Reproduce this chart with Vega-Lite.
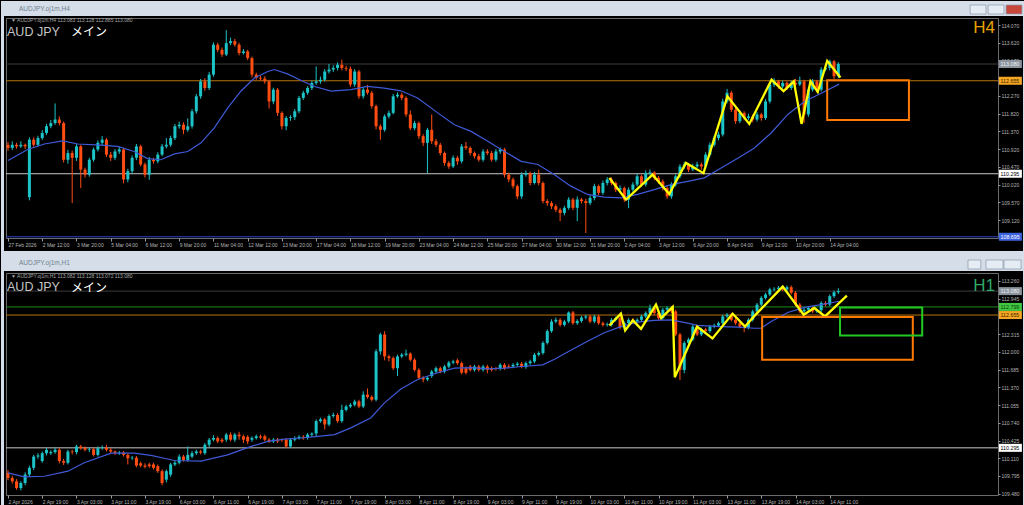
{
"$schema":"https://vega.github.io/schema/vega-lite/v6.json",
"padding":0,
"background":"#000000",
"config":{"view":{"stroke":"#6b6b6b","strokeWidth":1},"font":"Liberation Sans","scale":{"continuousPadding":0}},
"datasets":{
"f4":[{"x":-1.636,"x2":237.62,"y":114.679,"y2":114.299},{"x":-1.636,"x2":-0.935,"y":114.299,"y2":108.283},{"x":237.15,"x2":237.62,"y":114.299,"y2":108.283},{"x":-1.636,"x2":237.62,"y":108.334,"y2":108.283}],
"f1":[{"x":-1.636,"x2":237.62,"y":113.757,"y2":113.438},{"x":-1.636,"x2":-0.935,"y":113.438,"y2":109.262},{"x":237.15,"x2":237.62,"y":113.438,"y2":109.262}],
"b4":[{"x":224.8,"x2":228.5,"y":114.578,"y2":114.35,"k":"b"},{"x":229.0,"x2":232.7,"y":114.578,"y2":114.35,"k":"b"},{"x":233.2,"x2":236.9,"y":114.578,"y2":114.35,"k":"x"}],
"b1":[{"x":224.3,"x2":227.3,"y":113.633,"y2":113.473,"k":"b"},{"x":228.5,"x2":232.5,"y":113.633,"y2":113.473,"k":"b"},{"x":232.7,"x2":236.7,"y":113.633,"y2":113.473,"k":"b"}],
"h4":[{"v":113.08,"k":"c"},{"v":112.655,"k":"o"},{"v":110.295,"k":"w"},{"v":108.695,"k":"b"}],
"h1":[{"v":113.08,"k":"c"},{"v":112.799,"k":"g"},{"v":112.655,"k":"o"},{"v":110.295,"k":"w"}],
"t4":[{"v":113.08,"k":"c","t":"113.080"},{"v":112.655,"k":"o","t":"112.655"},{"v":110.295,"k":"w","t":"110.295"},{"v":108.695,"k":"b","t":"108.695"}],
"t1":[{"v":113.08,"k":"c","t":"113.080"},{"v":112.799,"k":"g","t":"112.799"},{"v":112.655,"k":"o","t":"112.655"},{"v":110.295,"k":"w","t":"110.295"}],
"r4":[{"x":191.4,"x2":210.5,"y":112.67,"y2":111.66,"k":"o"}],
"r1":[{"x":176.2,"x2":211.4,"y":112.62,"y2":111.86,"k":"o"},{"x":194.4,"x2":213.6,"y":112.79,"y2":112.29,"k":"g"}],
"ma4":[{"i":0,"v":110.63},{"i":4.6,"v":110.91},{"i":8.5,"v":111.05},{"i":12.8,"v":111.13},{"i":16.3,"v":111.05},{"i":21.7,"v":111.02},{"i":25.6,"v":110.99},{"i":29.5,"v":110.86},{"i":32.6,"v":110.68},{"i":35.7,"v":110.65},{"i":38.9,"v":110.8},{"i":42,"v":110.86},{"i":45.1,"v":111.08},{"i":48.2,"v":111.46},{"i":51.3,"v":111.96},{"i":54.4,"v":112.39},{"i":57.5,"v":112.72},{"i":60.7,"v":112.89},{"i":62.2,"v":112.94},{"i":65.3,"v":112.83},{"i":68.5,"v":112.66},{"i":71.6,"v":112.51},{"i":75.5,"v":112.39},{"i":80.1,"v":112.43},{"i":84,"v":112.51},{"i":87.9,"v":112.47},{"i":91.8,"v":112.4},{"i":95.7,"v":112.22},{"i":100.4,"v":111.84},{"i":104.3,"v":111.54},{"i":108.2,"v":111.37},{"i":112.1,"v":111.12},{"i":116,"v":110.86},{"i":119.9,"v":110.61},{"i":123.8,"v":110.53},{"i":127.7,"v":110.27},{"i":131.5,"v":109.98},{"i":135.4,"v":109.77},{"i":139.3,"v":109.7},{"i":143.2,"v":109.68},{"i":147.1,"v":109.77},{"i":151,"v":109.89},{"i":154.9,"v":110.02},{"i":158.8,"v":110.1},{"i":162.7,"v":110.19},{"i":166.6,"v":110.44},{"i":170.5,"v":110.69},{"i":174.4,"v":110.95},{"i":178.3,"v":111.33},{"i":182.2,"v":111.8},{"i":186.1,"v":112.13},{"i":190,"v":112.34},{"i":194.2,"v":112.57}],
"ma1":[{"i":0,"v":109.85},{"i":3.8,"v":109.78},{"i":8.5,"v":109.79},{"i":14,"v":109.88},{"i":17.8,"v":110.03},{"i":24.1,"v":110.2},{"i":29.5,"v":110.2},{"i":33.4,"v":110.16},{"i":38.9,"v":110.07},{"i":45.1,"v":110.06},{"i":51.3,"v":110.17},{"i":56.8,"v":110.32},{"i":60.7,"v":110.41},{"i":64.6,"v":110.45},{"i":68.5,"v":110.47},{"i":72.4,"v":110.5},{"i":76.3,"v":110.53},{"i":80.1,"v":110.65},{"i":84.8,"v":110.83},{"i":87.9,"v":111.09},{"i":91.8,"v":111.34},{"i":95.7,"v":111.51},{"i":100.4,"v":111.63},{"i":104.3,"v":111.71},{"i":108.2,"v":111.72},{"i":112.1,"v":111.7},{"i":116,"v":111.71},{"i":119.9,"v":111.74},{"i":124.9,"v":111.77},{"i":127.7,"v":111.87},{"i":131.5,"v":112.03},{"i":135.4,"v":112.19},{"i":139.3,"v":112.34},{"i":143.2,"v":112.45},{"i":147.1,"v":112.53},{"i":151,"v":112.56},{"i":154.9,"v":112.57},{"i":158.8,"v":112.51},{"i":161.1,"v":112.47},{"i":166.6,"v":112.45},{"i":170.5,"v":112.44},{"i":174.4,"v":112.42},{"i":175.9,"v":112.42},{"i":178.3,"v":112.54},{"i":182.2,"v":112.7},{"i":186.1,"v":112.79},{"i":190,"v":112.84},{"i":194.2,"v":112.9}],
"zz4":[{"i":140.5,"v":110.19},{"i":144.4,"v":109.64},{"i":150.6,"v":110.27},{"i":154.5,"v":109.78},{"i":158.4,"v":110.57},{"i":162.5,"v":110.31},{"i":168.1,"v":112.26},{"i":173.2,"v":111.56},{"i":178.4,"v":112.68},{"i":181.2,"v":112.39},{"i":183.6,"v":112.64},{"i":185.4,"v":111.56},{"i":187.5,"v":112.64},{"i":189.2,"v":112.37},{"i":191.4,"v":113.16},{"i":194.5,"v":112.74}],
"zz1":[{"i":140.5,"v":112.47},{"i":143.2,"v":112.68},{"i":144.2,"v":112.38},{"i":146,"v":112.56},{"i":147.9,"v":112.41},{"i":151.4,"v":112.84},{"i":152.6,"v":112.6},{"i":155.3,"v":112.8},{"i":155.8,"v":111.55},{"i":161,"v":112.45},{"i":164.6,"v":112.24},{"i":169.3,"v":112.68},{"i":172.2,"v":112.45},{"i":174.4,"v":112.64},{"i":181,"v":113.16},{"i":185.9,"v":112.66},{"i":188.4,"v":112.78},{"i":190.9,"v":112.63},{"i":196,"v":113.0}],
"c4":[
{"i":0,"o":111.03,"h":111.1,"l":110.88,"c":110.95},{"i":1,"o":110.95,"h":111.12,"l":110.9,"c":111.03},{"i":2,"o":111.03,"h":111.08,"l":110.93,"c":110.99},{"i":3,"o":110.99,"h":111.12,"l":110.95,"c":111.03},{"i":4,"o":111.03,"h":111.06,"l":110.92,"c":110.99},
{"i":5,"o":109.7,"h":111.22,"l":109.62,"c":111.16},{"i":6,"o":111.16,"h":111.22,"l":110.98,"c":111.03},{"i":7,"o":111.03,"h":111.26,"l":110.99,"c":111.2},{"i":8,"o":111.2,"h":111.4,"l":111.15,"c":111.33},{"i":9,"o":111.33,"h":111.56,"l":111.28,"c":111.5},
{"i":10,"o":111.5,"h":111.66,"l":111.45,"c":111.58},{"i":11,"o":111.58,"h":112.08,"l":111.54,"c":111.67},{"i":12,"o":111.67,"h":111.75,"l":111.52,"c":111.58},{"i":13,"o":111.58,"h":111.62,"l":110.58,"c":110.65},{"i":14,"o":110.65,"h":110.9,"l":110.55,"c":110.82},
{"i":15,"o":110.82,"h":110.88,"l":109.55,"c":110.7},{"i":16,"o":110.7,"h":111.05,"l":110.62,"c":110.99},{"i":17,"o":110.99,"h":111.03,"l":109.93,"c":110.4},{"i":18,"o":110.4,"h":110.45,"l":110.2,"c":110.27},{"i":19,"o":110.27,"h":110.7,"l":110.22,"c":110.65},
{"i":20,"o":110.65,"h":110.96,"l":110.6,"c":110.91},{"i":21,"o":110.91,"h":111.14,"l":110.86,"c":111.08},{"i":22,"o":111.08,"h":111.25,"l":111.02,"c":111.16},{"i":23,"o":111.16,"h":111.2,"l":110.72,"c":110.78},{"i":24,"o":110.78,"h":110.85,"l":110.62,"c":110.7},
{"i":25,"o":110.7,"h":110.92,"l":110.64,"c":110.86},{"i":26,"o":110.86,"h":110.98,"l":110.8,"c":110.91},{"i":27,"o":110.91,"h":110.95,"l":110.05,"c":110.15},{"i":28,"o":110.15,"h":110.42,"l":110.08,"c":110.36},{"i":29,"o":110.36,"h":110.76,"l":110.3,"c":110.7},
{"i":30,"o":110.7,"h":111.05,"l":110.64,"c":110.99},{"i":31,"o":110.99,"h":111.03,"l":110.48,"c":110.53},{"i":32,"o":110.53,"h":110.58,"l":110.2,"c":110.27},{"i":33,"o":110.27,"h":110.72,"l":110.14,"c":110.65},{"i":34,"o":110.65,"h":110.7,"l":110.55,"c":110.61},
{"i":35,"o":110.61,"h":110.84,"l":110.56,"c":110.78},{"i":36,"o":110.78,"h":111.05,"l":110.74,"c":110.99},{"i":37,"o":110.99,"h":111.2,"l":110.94,"c":111.03},{"i":38,"o":111.03,"h":111.26,"l":110.98,"c":111.2},{"i":39,"o":111.2,"h":111.56,"l":111.15,"c":111.5},
{"i":40,"o":111.5,"h":111.62,"l":111.44,"c":111.54},{"i":41,"o":111.54,"h":111.6,"l":111.3,"c":111.41},{"i":42,"o":111.41,"h":111.7,"l":111.36,"c":111.5},{"i":43,"o":111.5,"h":111.94,"l":111.44,"c":111.88},{"i":44,"o":111.88,"h":112.32,"l":111.82,"c":112.26},
{"i":45,"o":112.26,"h":112.7,"l":112.2,"c":112.64},{"i":46,"o":112.64,"h":112.72,"l":112.4,"c":112.47},{"i":47,"o":112.47,"h":112.88,"l":112.42,"c":112.81},{"i":48,"o":112.81,"h":113.63,"l":112.76,"c":113.57},{"i":49,"o":113.57,"h":113.62,"l":113.38,"c":113.44},
{"i":50,"o":113.44,"h":113.5,"l":113.26,"c":113.32},{"i":51,"o":113.32,"h":113.94,"l":113.28,"c":113.61},{"i":52,"o":113.61,"h":113.75,"l":113.56,"c":113.66},{"i":53,"o":113.66,"h":113.72,"l":113.52,"c":113.57},{"i":54,"o":113.57,"h":113.62,"l":113.3,"c":113.36},
{"i":55,"o":113.36,"h":113.46,"l":113.32,"c":113.4},{"i":56,"o":113.4,"h":113.44,"l":113.18,"c":113.23},{"i":57,"o":113.23,"h":113.27,"l":112.74,"c":112.81},{"i":58,"o":112.81,"h":112.86,"l":112.68,"c":112.73},{"i":59,"o":112.73,"h":112.78,"l":112.66,"c":112.71},
{"i":60,"o":112.71,"h":112.77,"l":112.58,"c":112.64},{"i":61,"o":112.64,"h":112.68,"l":111.95,"c":112.13},{"i":62,"o":112.13,"h":112.48,"l":112.06,"c":112.43},{"i":63,"o":112.43,"h":112.47,"l":111.76,"c":111.84},{"i":64,"o":111.84,"h":111.88,"l":111.42,"c":111.5},
{"i":65,"o":111.5,"h":111.76,"l":111.4,"c":111.71},{"i":66,"o":111.71,"h":111.78,"l":111.64,"c":111.73},{"i":67,"o":111.73,"h":111.94,"l":111.66,"c":111.88},{"i":68,"o":111.88,"h":112.27,"l":111.83,"c":112.22},{"i":69,"o":112.22,"h":112.4,"l":112.17,"c":112.35},
{"i":70,"o":112.35,"h":112.52,"l":112.3,"c":112.47},{"i":71,"o":112.47,"h":112.66,"l":112.42,"c":112.6},{"i":72,"o":112.6,"h":113.02,"l":112.55,"c":112.64},{"i":73,"o":112.64,"h":112.76,"l":112.58,"c":112.68},{"i":74,"o":112.68,"h":112.95,"l":112.63,"c":112.89},
{"i":75,"o":112.89,"h":113.08,"l":112.84,"c":112.94},{"i":76,"o":112.94,"h":113.05,"l":112.88,"c":112.98},{"i":77,"o":112.98,"h":113.12,"l":112.92,"c":113.06},{"i":78,"o":113.06,"h":113.19,"l":112.92,"c":112.98},{"i":79,"o":112.98,"h":113.04,"l":112.9,"c":112.96},
{"i":80,"o":112.96,"h":113.02,"l":112.5,"c":112.56},{"i":81,"o":112.56,"h":112.95,"l":112.5,"c":112.89},{"i":82,"o":112.89,"h":112.93,"l":112.2,"c":112.26},{"i":83,"o":112.26,"h":112.5,"l":112.2,"c":112.43},{"i":84,"o":112.43,"h":112.55,"l":112.3,"c":112.35},
{"i":85,"o":112.35,"h":112.4,"l":111.95,"c":112.01},{"i":86,"o":112.01,"h":112.05,"l":111.42,"c":111.5},{"i":87,"o":111.5,"h":111.55,"l":111.16,"c":111.41},{"i":88,"o":111.41,"h":111.8,"l":111.36,"c":111.75},{"i":89,"o":111.75,"h":111.9,"l":111.7,"c":111.84},
{"i":90,"o":111.84,"h":112.32,"l":111.8,"c":112.26},{"i":91,"o":112.26,"h":112.36,"l":112.22,"c":112.3},{"i":92,"o":112.3,"h":112.35,"l":112.16,"c":112.22},{"i":93,"o":112.22,"h":112.26,"l":111.74,"c":111.8},{"i":94,"o":111.8,"h":111.9,"l":111.4,"c":111.45},
{"i":95,"o":111.45,"h":111.64,"l":111.4,"c":111.58},{"i":96,"o":111.58,"h":111.62,"l":111.18,"c":111.25},{"i":97,"o":111.25,"h":111.3,"l":111.0,"c":111.08},{"i":98,"o":111.08,"h":111.46,"l":110.31,"c":111.41},{"i":99,"o":111.41,"h":111.8,"l":111.05,"c":111.12},
{"i":100,"o":111.12,"h":111.18,"l":110.97,"c":111.03},{"i":101,"o":111.03,"h":111.08,"l":110.76,"c":110.82},{"i":102,"o":110.82,"h":110.86,"l":110.5,"c":110.57},{"i":103,"o":110.57,"h":110.62,"l":110.42,"c":110.48},{"i":104,"o":110.48,"h":110.76,"l":110.44,"c":110.7},
{"i":105,"o":110.7,"h":110.75,"l":110.52,"c":110.61},{"i":106,"o":110.61,"h":111.05,"l":110.56,"c":110.99},{"i":107,"o":110.99,"h":111.1,"l":110.9,"c":110.95},{"i":108,"o":110.95,"h":110.99,"l":110.76,"c":110.82},{"i":109,"o":110.82,"h":110.86,"l":110.68,"c":110.74},
{"i":110,"o":110.74,"h":110.8,"l":110.6,"c":110.65},{"i":111,"o":110.65,"h":110.92,"l":110.6,"c":110.86},{"i":112,"o":110.86,"h":110.92,"l":110.77,"c":110.82},{"i":113,"o":110.82,"h":110.87,"l":110.6,"c":110.65},{"i":114,"o":110.65,"h":110.92,"l":110.6,"c":110.86},
{"i":115,"o":110.86,"h":110.96,"l":110.8,"c":110.91},{"i":116,"o":110.91,"h":110.95,"l":110.2,"c":110.27},{"i":117,"o":110.27,"h":110.32,"l":110.08,"c":110.15},{"i":118,"o":110.15,"h":110.2,"l":109.92,"c":109.98},{"i":119,"o":109.98,"h":110.02,"l":109.65,"c":109.72},
{"i":120,"o":109.72,"h":110.33,"l":109.66,"c":110.27},{"i":121,"o":110.27,"h":110.38,"l":110.22,"c":110.31},{"i":122,"o":110.31,"h":110.35,"l":110.0,"c":110.06},{"i":123,"o":110.06,"h":110.34,"l":110.02,"c":110.27},{"i":124,"o":110.27,"h":110.4,"l":110.0,"c":110.06},
{"i":125,"o":110.06,"h":110.1,"l":109.54,"c":109.6},{"i":126,"o":109.6,"h":109.65,"l":109.48,"c":109.55},{"i":127,"o":109.55,"h":109.6,"l":109.4,"c":109.47},{"i":128,"o":109.47,"h":109.52,"l":109.32,"c":109.38},{"i":129,"o":109.38,"h":109.43,"l":109.09,"c":109.3},
{"i":130,"o":109.3,"h":109.48,"l":109.24,"c":109.43},{"i":131,"o":109.43,"h":109.7,"l":109.38,"c":109.64},{"i":132,"o":109.64,"h":109.68,"l":109.37,"c":109.43},{"i":133,"o":109.43,"h":109.72,"l":109.09,"c":109.64},{"i":134,"o":109.64,"h":109.68,"l":109.54,"c":109.6},
{"i":135,"o":109.6,"h":109.66,"l":108.79,"c":109.55},{"i":136,"o":109.55,"h":109.74,"l":109.5,"c":109.68},{"i":137,"o":109.68,"h":110.04,"l":109.62,"c":109.98},{"i":138,"o":109.98,"h":110.02,"l":109.75,"c":109.81},{"i":139,"o":109.81,"h":110.12,"l":109.76,"c":110.06},
{"i":140,"o":110.06,"h":110.21,"l":110.0,"c":110.15},{"i":141,"o":110.15,"h":110.2,"l":110.0,"c":110.06},{"i":142,"o":110.06,"h":110.1,"l":109.83,"c":109.89},{"i":143,"o":109.89,"h":110.0,"l":109.85,"c":109.93},{"i":144,"o":109.93,"h":109.97,"l":109.58,"c":109.64},
{"i":145,"o":109.64,"h":109.95,"l":109.42,"c":109.89},{"i":146,"o":109.89,"h":110.08,"l":109.84,"c":110.02},{"i":147,"o":110.02,"h":110.29,"l":109.97,"c":110.23},{"i":148,"o":110.23,"h":110.27,"l":109.96,"c":110.02},{"i":149,"o":110.02,"h":110.38,"l":109.97,"c":110.31},
{"i":150,"o":110.31,"h":110.4,"l":110.25,"c":110.33},{"i":151,"o":110.33,"h":110.36,"l":110.13,"c":110.19},{"i":152,"o":110.19,"h":110.24,"l":110.04,"c":110.1},{"i":153,"o":110.1,"h":110.15,"l":109.87,"c":109.93},{"i":154,"o":109.93,"h":109.98,"l":109.66,"c":109.72},
{"i":155,"o":109.72,"h":110.08,"l":109.66,"c":110.02},{"i":156,"o":110.02,"h":110.28,"l":109.97,"c":110.23},{"i":157,"o":110.23,"h":110.54,"l":110.18,"c":110.48},{"i":158,"o":110.48,"h":110.6,"l":110.42,"c":110.53},{"i":159,"o":110.53,"h":110.57,"l":110.34,"c":110.4},
{"i":160,"o":110.4,"h":110.55,"l":110.36,"c":110.48},{"i":161,"o":110.48,"h":110.6,"l":110.44,"c":110.53},{"i":162,"o":110.53,"h":110.58,"l":110.4,"c":110.48},{"i":163,"o":110.48,"h":110.84,"l":110.43,"c":110.78},{"i":164,"o":110.78,"h":111.09,"l":110.73,"c":111.03},
{"i":165,"o":111.03,"h":111.26,"l":110.98,"c":111.2},{"i":166,"o":111.2,"h":111.36,"l":111.14,"c":111.29},{"i":167,"o":111.29,"h":112.2,"l":111.24,"c":112.13},{"i":168,"o":112.13,"h":112.45,"l":112.08,"c":112.35},{"i":169,"o":112.35,"h":112.4,"l":111.86,"c":111.92},
{"i":170,"o":111.92,"h":111.97,"l":111.56,"c":111.63},{"i":171,"o":111.63,"h":111.9,"l":111.58,"c":111.84},{"i":172,"o":111.84,"h":111.88,"l":111.65,"c":111.71},{"i":173,"o":111.71,"h":111.82,"l":111.66,"c":111.75},{"i":174,"o":111.75,"h":111.8,"l":111.6,"c":111.67},
{"i":175,"o":111.67,"h":111.86,"l":111.62,"c":111.8},{"i":176,"o":111.8,"h":111.84,"l":111.64,"c":111.71},{"i":177,"o":111.71,"h":112.19,"l":111.66,"c":112.13},{"i":178,"o":112.13,"h":112.62,"l":112.08,"c":112.56},{"i":179,"o":112.56,"h":112.72,"l":112.5,"c":112.64},
{"i":180,"o":112.64,"h":112.68,"l":112.45,"c":112.51},{"i":181,"o":112.51,"h":112.66,"l":112.46,"c":112.6},{"i":182,"o":112.6,"h":112.64,"l":112.42,"c":112.47},{"i":183,"o":112.47,"h":112.66,"l":112.42,"c":112.6},{"i":184,"o":112.6,"h":112.7,"l":112.5,"c":112.56},
{"i":185,"o":112.56,"h":112.76,"l":112.52,"c":112.64},{"i":186,"o":112.64,"h":112.68,"l":111.58,"c":111.8},{"i":187,"o":111.8,"h":112.49,"l":111.74,"c":112.43},{"i":188,"o":112.43,"h":112.7,"l":112.38,"c":112.64},{"i":189,"o":112.64,"h":112.68,"l":112.36,"c":112.43},
{"i":190,"o":112.43,"h":113.0,"l":112.38,"c":112.94},{"i":191,"o":112.94,"h":113.06,"l":112.9,"c":112.98},{"i":192,"o":112.98,"h":113.19,"l":112.92,"c":113.15},{"i":193,"o":113.15,"h":113.18,"l":112.7,"c":112.77},{"i":194,"o":112.77,"h":113.13,"l":112.72,"c":113.08}],
"c1":[
{"i":0,"o":109.85,"h":109.9,"l":109.72,"c":109.76},{"i":1,"o":109.76,"h":109.8,"l":109.66,"c":109.7},{"i":2,"o":109.7,"h":109.74,"l":109.55,"c":109.58},{"i":3,"o":109.58,"h":109.7,"l":109.54,"c":109.67},{"i":4,"o":109.67,"h":109.86,"l":109.63,"c":109.82},
{"i":5,"o":109.82,"h":109.98,"l":109.78,"c":109.94},{"i":6,"o":109.94,"h":110.17,"l":109.9,"c":110.14},{"i":7,"o":110.14,"h":110.2,"l":110.1,"c":110.16},{"i":8,"o":110.06,"h":110.23,"l":110.03,"c":110.2},{"i":9,"o":110.2,"h":110.29,"l":110.16,"c":110.26},
{"i":10,"o":110.2,"h":110.25,"l":110.17,"c":110.22},{"i":11,"o":110.22,"h":110.3,"l":110.19,"c":110.26},{"i":12,"o":110.26,"h":110.29,"l":110.02,"c":110.06},{"i":13,"o":110.06,"h":110.1,"l":109.99,"c":110.03},{"i":14,"o":110.03,"h":110.26,"l":110.0,"c":110.23},
{"i":15,"o":110.23,"h":110.26,"l":110.18,"c":110.22},{"i":16,"o":110.22,"h":110.35,"l":110.18,"c":110.32},{"i":17,"o":110.32,"h":110.35,"l":110.26,"c":110.29},{"i":18,"o":110.29,"h":110.32,"l":110.23,"c":110.26},{"i":19,"o":110.26,"h":110.3,"l":110.22,"c":110.27},
{"i":20,"o":110.27,"h":110.3,"l":110.14,"c":110.17},{"i":21,"o":110.17,"h":110.32,"l":110.14,"c":110.29},{"i":22,"o":110.29,"h":110.34,"l":110.26,"c":110.3},{"i":23,"o":110.3,"h":110.35,"l":110.23,"c":110.26},{"i":24,"o":110.26,"h":110.29,"l":110.2,"c":110.23},
{"i":25,"o":110.23,"h":110.25,"l":110.17,"c":110.2},{"i":26,"o":110.2,"h":110.24,"l":110.17,"c":110.21},{"i":27,"o":110.21,"h":110.24,"l":110.14,"c":110.17},{"i":28,"o":110.17,"h":110.2,"l":110.0,"c":110.11},{"i":29,"o":110.11,"h":110.15,"l":110.08,"c":110.12},
{"i":30,"o":110.12,"h":110.15,"l":109.95,"c":109.98},{"i":31,"o":110.02,"h":110.05,"l":109.95,"c":109.98},{"i":32,"o":109.98,"h":110.02,"l":109.93,"c":109.96},{"i":33,"o":110.0,"h":110.03,"l":109.94,"c":109.97},{"i":34,"o":110.0,"h":110.03,"l":109.91,"c":109.94},
{"i":35,"o":109.97,"h":110.0,"l":109.85,"c":109.88},{"i":36,"o":109.88,"h":109.91,"l":109.63,"c":109.67},{"i":37,"o":109.73,"h":109.91,"l":109.68,"c":109.88},{"i":38,"o":109.82,"h":110.03,"l":109.78,"c":110.0},{"i":39,"o":110.0,"h":110.07,"l":109.97,"c":110.03},
{"i":40,"o":110.03,"h":110.18,"l":110.0,"c":110.14},{"i":41,"o":110.14,"h":110.17,"l":110.05,"c":110.08},{"i":42,"o":110.08,"h":110.32,"l":110.05,"c":110.17},{"i":43,"o":110.14,"h":110.24,"l":110.11,"c":110.2},{"i":44,"o":110.2,"h":110.26,"l":110.17,"c":110.23},
{"i":45,"o":110.23,"h":110.26,"l":110.18,"c":110.21},{"i":46,"o":110.2,"h":110.38,"l":110.17,"c":110.35},{"i":47,"o":110.35,"h":110.47,"l":110.31,"c":110.44},{"i":48,"o":110.44,"h":110.52,"l":110.41,"c":110.47},{"i":49,"o":110.47,"h":110.5,"l":110.38,"c":110.41},
{"i":50,"o":110.44,"h":110.47,"l":110.38,"c":110.41},{"i":51,"o":110.44,"h":110.56,"l":110.4,"c":110.53},{"i":52,"o":110.53,"h":110.57,"l":110.41,"c":110.44},{"i":53,"o":110.44,"h":110.56,"l":110.4,"c":110.53},{"i":54,"o":110.53,"h":110.58,"l":110.44,"c":110.5},
{"i":55,"o":110.5,"h":110.53,"l":110.38,"c":110.44},{"i":56,"o":110.49,"h":110.52,"l":110.36,"c":110.41},{"i":57,"o":110.44,"h":110.5,"l":110.4,"c":110.47},{"i":58,"o":110.47,"h":110.53,"l":110.44,"c":110.5},{"i":59,"o":110.5,"h":110.53,"l":110.45,"c":110.48},
{"i":60,"o":110.5,"h":110.53,"l":110.41,"c":110.44},{"i":61,"o":110.44,"h":110.47,"l":110.38,"c":110.41},{"i":62,"o":110.41,"h":110.47,"l":110.38,"c":110.44},{"i":63,"o":110.44,"h":110.47,"l":110.38,"c":110.41},{"i":64,"o":110.44,"h":110.46,"l":110.4,"c":110.43},
{"i":65,"o":110.44,"h":110.47,"l":110.29,"c":110.32},{"i":66,"o":110.32,"h":110.47,"l":110.29,"c":110.44},{"i":67,"o":110.44,"h":110.5,"l":110.41,"c":110.47},{"i":68,"o":110.47,"h":110.52,"l":110.44,"c":110.49},{"i":69,"o":110.49,"h":110.52,"l":110.44,"c":110.47},
{"i":70,"o":110.47,"h":110.56,"l":110.44,"c":110.53},{"i":71,"o":110.53,"h":110.57,"l":110.49,"c":110.55},{"i":72,"o":110.55,"h":110.8,"l":110.5,"c":110.77},{"i":73,"o":110.77,"h":110.83,"l":110.74,"c":110.8},{"i":74,"o":110.8,"h":110.83,"l":110.62,"c":110.71},
{"i":75,"o":110.71,"h":110.89,"l":110.68,"c":110.86},{"i":76,"o":110.86,"h":110.92,"l":110.83,"c":110.88},{"i":77,"o":110.88,"h":110.91,"l":110.74,"c":110.77},{"i":78,"o":110.77,"h":111.06,"l":110.74,"c":110.97},{"i":79,"o":110.97,"h":111.06,"l":110.94,"c":111.03},
{"i":80,"o":111.03,"h":111.09,"l":111.0,"c":111.06},{"i":81,"o":111.06,"h":111.15,"l":111.03,"c":111.12},{"i":82,"o":111.12,"h":111.15,"l":111.0,"c":111.03},{"i":83,"o":111.03,"h":111.3,"l":111.0,"c":111.24},{"i":84,"o":111.24,"h":111.35,"l":111.17,"c":111.2},
{"i":85,"o":111.2,"h":111.23,"l":111.12,"c":111.15},{"i":86,"o":111.15,"h":112.05,"l":111.12,"c":112.01},{"i":87,"o":112.01,"h":112.34,"l":111.95,"c":112.31},{"i":88,"o":112.31,"h":112.37,"l":111.85,"c":111.92},{"i":89,"o":111.92,"h":111.95,"l":111.83,"c":111.89},
{"i":90,"o":111.89,"h":111.92,"l":111.68,"c":111.71},{"i":91,"o":111.71,"h":111.95,"l":111.57,"c":111.92},{"i":92,"o":111.92,"h":111.98,"l":111.89,"c":111.95},{"i":93,"o":111.95,"h":112.04,"l":111.92,"c":111.97},{"i":94,"o":111.97,"h":111.99,"l":111.83,"c":111.86},
{"i":95,"o":111.86,"h":111.89,"l":111.65,"c":111.68},{"i":96,"o":111.68,"h":111.71,"l":111.51,"c":111.54},{"i":97,"o":111.54,"h":111.57,"l":111.46,"c":111.51},{"i":98,"o":111.51,"h":111.57,"l":111.48,"c":111.54},{"i":99,"o":111.57,"h":111.68,"l":111.54,"c":111.65},
{"i":100,"o":111.65,"h":111.74,"l":111.62,"c":111.71},{"i":101,"o":111.71,"h":111.74,"l":111.62,"c":111.65},{"i":102,"o":111.65,"h":111.77,"l":111.62,"c":111.74},{"i":103,"o":111.74,"h":111.84,"l":111.71,"c":111.81},{"i":104,"o":111.81,"h":111.86,"l":111.78,"c":111.83},
{"i":105,"o":111.85,"h":111.88,"l":111.77,"c":111.8},{"i":106,"o":111.8,"h":111.83,"l":111.6,"c":111.63},{"i":107,"o":111.71,"h":111.74,"l":111.6,"c":111.63},{"i":108,"o":111.74,"h":111.77,"l":111.65,"c":111.68},{"i":109,"o":111.68,"h":111.77,"l":111.65,"c":111.74},
{"i":110,"o":111.74,"h":111.77,"l":111.65,"c":111.68},{"i":111,"o":111.68,"h":111.77,"l":111.65,"c":111.74},{"i":112,"o":111.74,"h":111.77,"l":111.62,"c":111.68},{"i":113,"o":111.71,"h":111.74,"l":111.65,"c":111.68},{"i":114,"o":111.71,"h":111.73,"l":111.67,"c":111.7},
{"i":115,"o":111.7,"h":111.8,"l":111.67,"c":111.77},{"i":116,"o":111.77,"h":111.8,"l":111.68,"c":111.71},{"i":117,"o":111.75,"h":111.78,"l":111.71,"c":111.74},{"i":118,"o":111.74,"h":111.8,"l":111.71,"c":111.77},{"i":119,"o":111.77,"h":111.82,"l":111.74,"c":111.79},
{"i":120,"o":111.79,"h":111.82,"l":111.71,"c":111.74},{"i":121,"o":111.73,"h":111.83,"l":111.7,"c":111.8},{"i":122,"o":111.8,"h":111.86,"l":111.77,"c":111.83},{"i":123,"o":111.83,"h":111.98,"l":111.8,"c":111.95},{"i":124,"o":111.95,"h":112.01,"l":111.92,"c":111.98},
{"i":125,"o":111.98,"h":112.19,"l":111.95,"c":112.16},{"i":126,"o":112.16,"h":112.4,"l":112.13,"c":112.37},{"i":127,"o":112.37,"h":112.58,"l":112.34,"c":112.54},{"i":128,"o":112.54,"h":112.61,"l":112.51,"c":112.57},{"i":129,"o":112.57,"h":112.6,"l":112.45,"c":112.48},
{"i":130,"o":112.48,"h":112.57,"l":112.45,"c":112.54},{"i":131,"o":112.54,"h":112.72,"l":112.51,"c":112.7},{"i":132,"o":112.7,"h":112.73,"l":112.48,"c":112.51},{"i":133,"o":112.51,"h":112.58,"l":112.48,"c":112.55},{"i":134,"o":112.55,"h":112.64,"l":112.52,"c":112.61},
{"i":135,"o":112.61,"h":112.66,"l":112.58,"c":112.63},{"i":136,"o":112.63,"h":112.66,"l":112.51,"c":112.54},{"i":137,"o":112.54,"h":112.66,"l":112.51,"c":112.63},{"i":138,"o":112.63,"h":112.66,"l":112.48,"c":112.51},{"i":139,"o":112.51,"h":112.54,"l":112.45,"c":112.48},
{"i":140,"o":112.48,"h":112.52,"l":112.45,"c":112.49},{"i":141,"o":112.48,"h":112.6,"l":112.45,"c":112.57},{"i":142,"o":112.57,"h":112.63,"l":112.54,"c":112.6},{"i":143,"o":112.6,"h":112.66,"l":112.4,"c":112.43},{"i":144,"o":112.43,"h":112.54,"l":112.38,"c":112.51},
{"i":145,"o":112.51,"h":112.6,"l":112.48,"c":112.57},{"i":146,"o":112.57,"h":112.6,"l":112.51,"c":112.54},{"i":147,"o":112.54,"h":112.6,"l":112.51,"c":112.57},{"i":148,"o":112.57,"h":112.66,"l":112.54,"c":112.63},{"i":149,"o":112.63,"h":112.72,"l":112.6,"c":112.69},
{"i":150,"o":112.69,"h":112.84,"l":112.66,"c":112.78},{"i":151,"o":112.78,"h":112.81,"l":112.66,"c":112.69},{"i":152,"o":112.69,"h":112.72,"l":112.57,"c":112.6},{"i":153,"o":112.6,"h":112.78,"l":112.57,"c":112.75},{"i":154,"o":112.75,"h":112.81,"l":112.72,"c":112.78},
{"i":155,"o":112.78,"h":112.81,"l":112.69,"c":112.72},{"i":156,"o":112.72,"h":112.75,"l":112.28,"c":112.31},{"i":157,"o":112.31,"h":112.34,"l":111.5,"c":111.68},{"i":158,"o":111.68,"h":112.19,"l":111.62,"c":112.16},{"i":159,"o":112.16,"h":112.25,"l":112.12,"c":112.22},
{"i":160,"o":112.22,"h":112.48,"l":112.19,"c":112.45},{"i":161,"o":112.45,"h":112.48,"l":112.28,"c":112.31},{"i":162,"o":112.31,"h":112.43,"l":112.28,"c":112.4},{"i":163,"o":112.4,"h":112.43,"l":112.34,"c":112.37},{"i":164,"o":112.37,"h":112.48,"l":112.34,"c":112.45},
{"i":165,"o":112.45,"h":112.5,"l":112.42,"c":112.47},{"i":166,"o":112.47,"h":112.54,"l":112.44,"c":112.51},{"i":167,"o":112.51,"h":112.66,"l":112.48,"c":112.63},{"i":168,"o":112.63,"h":112.69,"l":112.6,"c":112.66},{"i":169,"o":112.66,"h":112.69,"l":112.54,"c":112.57},
{"i":170,"o":112.57,"h":112.6,"l":112.48,"c":112.51},{"i":171,"o":112.51,"h":112.54,"l":112.42,"c":112.45},{"i":172,"o":112.45,"h":112.48,"l":112.35,"c":112.43},{"i":173,"o":112.43,"h":112.6,"l":112.4,"c":112.57},{"i":174,"o":112.57,"h":112.75,"l":112.54,"c":112.72},
{"i":175,"o":112.72,"h":112.87,"l":112.69,"c":112.84},{"i":176,"o":112.84,"h":112.99,"l":112.81,"c":112.96},{"i":177,"o":112.96,"h":113.05,"l":112.93,"c":113.02},{"i":178,"o":113.02,"h":113.14,"l":112.99,"c":113.11},{"i":179,"o":113.11,"h":113.15,"l":113.08,"c":113.12},
{"i":180,"o":113.12,"h":113.17,"l":113.09,"c":113.14},{"i":181,"o":113.14,"h":113.17,"l":113.08,"c":113.11},{"i":182,"o":113.11,"h":113.18,"l":113.08,"c":113.15},{"i":183,"o":113.15,"h":113.18,"l":113.02,"c":113.05},{"i":184,"o":113.05,"h":113.08,"l":112.81,"c":112.84},
{"i":185,"o":112.84,"h":112.87,"l":112.69,"c":112.72},{"i":186,"o":112.72,"h":112.78,"l":112.69,"c":112.75},{"i":187,"o":112.75,"h":112.81,"l":112.72,"c":112.78},{"i":188,"o":112.78,"h":112.81,"l":112.69,"c":112.72},{"i":189,"o":112.72,"h":112.77,"l":112.69,"c":112.74},
{"i":190,"o":112.74,"h":112.9,"l":112.71,"c":112.87},{"i":191,"o":112.87,"h":112.9,"l":112.81,"c":112.84},{"i":192,"o":112.84,"h":113.02,"l":112.81,"c":112.99},{"i":193,"o":112.99,"h":113.09,"l":112.96,"c":113.06},{"i":194,"o":113.06,"h":113.13,"l":113.03,"c":113.08}]
},
"vconcat":[
{"width":992,"height":220,
"resolve":{"scale":{"color":"independent"}},
"layer":[
{"data":{"name":"f4"},"mark":{"type":"rect","color":"#d5dee8"},"encoding":{
"x":{"field":"x","type":"quantitative","scale":{"domain":[-0.467,231.308],"nice":false,"zero":false,"padding":0},"axis":{"values":[0,8,16,24,32,40,48,56,64,72,80,88,96,104,112,120,128,136,144,152,160,168,176,184,192],"tickCount":60,"labelExpr":"['27 Feb 2026','2 Mar 12:00','3 Mar 20:00','5 Mar 04:00','6 Mar 12:00','9 Mar 20:00','11 Mar 04:00','12 Mar 12:00','13 Mar 20:00','17 Mar 04:00','18 Mar 12:00','19 Mar 20:00','23 Mar 04:00','24 Mar 12:00','25 Mar 20:00','27 Mar 04:00','30 Mar 12:00','31 Mar 20:00','2 Apr 04:00','3 Apr 12:00','6 Apr 20:00','8 Apr 04:00','9 Apr 12:00','10 Apr 20:00','14 Apr 04:00'][round(datum.value/8)]","labelAlign":"left","labelBaseline":"top","labelPadding":1,"labelColor":"#b4b4b4","labelFontSize":5,"labelFont":"Liberation Sans","labelFontWeight":"normal","tickColor":"#9a9a9a","tickSize":3,"tickWidth":1,"domain":false,"grid":false,"title":null,"labelOverlap":false,"labelBound":false,"labelFlush":false,"labelAngle":0}},
"x2":{"field":"x2"},
"y":{"field":"y","type":"quantitative","scale":{"domain":[108.664,114.248],"nice":false,"zero":false,"padding":0},"axis":{"orient":"right","values":[109.12,109.57,110.02,110.47,110.92,111.37,111.82,112.27,112.72,113.17,113.62,114.07],"tickCount":40,"format":".3f","labelAlign":"left","labelBaseline":"middle","labelColor":"#b4b4b4","labelFontSize":5,"labelFont":"Liberation Sans","labelFontWeight":"normal","tickColor":"#9a9a9a","tickSize":2,"tickWidth":1,"labelPadding":1,"domain":false,"grid":false,"title":null,"labelOverlap":false,"labelBound":false,"labelFlush":false}},
"y2":{"field":"y2"}}},
{"data":{"name":"b4"},"mark":{"type":"rect","stroke":"#8796a8","strokeWidth":0.7},"encoding":{
"x":{"field":"x","type":"quantitative","scale":{"domain":[-0.467,231.308],"nice":false,"zero":false,"padding":0}},"x2":{"field":"x2"},
"y":{"field":"y","type":"quantitative","scale":{"domain":[108.664,114.248],"nice":false,"zero":false,"padding":0}},"y2":{"field":"y2"},
"color":{"field":"k","type":"nominal","scale":{"domain":["b","x"],"range":["#e6ecf3","#c8473d"]},"legend":null}}},
{"data":{"values":[{"x":2.57,"y":114.476,"t":"AUDJPY.oj1m,H4"}]},"mark":{"type":"text","align":"left","baseline":"middle","fontSize":6.5,"color":"#6f7f90"},"encoding":{
"x":{"field":"x","type":"quantitative","scale":{"domain":[-0.467,231.308],"nice":false,"zero":false,"padding":0}},
"y":{"field":"y","type":"quantitative","scale":{"domain":[108.664,114.248],"nice":false,"zero":false,"padding":0}},"text":{"field":"t"}}},
{"data":{"name":"h4"},"mark":{"type":"rule","strokeWidth":1},"encoding":{
"y":{"field":"v","type":"quantitative","scale":{"domain":[108.664,114.248],"nice":false,"zero":false,"padding":0}},
"color":{"field":"k","type":"nominal","scale":{"domain":["c","o","w","b","g"],"range":["#3c3c3c","#b8730a","#c8c8c8","#2d44c8","#1d8a1d"]},"legend":null}}},
{"data":{"name":"c4"},"mark":{"type":"rule","strokeWidth":1},"encoding":{
"x":{"field":"i","type":"quantitative","scale":{"domain":[-0.467,231.308],"nice":false,"zero":false,"padding":0}},
"y":{"field":"l","type":"quantitative","scale":{"domain":[108.664,114.248],"nice":false,"zero":false,"padding":0}},"y2":{"field":"h"},
"color":{"condition":{"test":"datum.c >= datum.o","value":"#1cc4c8"},"value":"#ff4d12"}}},
{"data":{"name":"c4"},"mark":{"type":"bar","size":3},"encoding":{
"x":{"field":"i","type":"quantitative","scale":{"domain":[-0.467,231.308],"nice":false,"zero":false,"padding":0}},
"y":{"field":"o","type":"quantitative","scale":{"domain":[108.664,114.248],"nice":false,"zero":false,"padding":0}},"y2":{"field":"c"},
"color":{"condition":{"test":"datum.c >= datum.o","value":"#1cc4c8"},"value":"#ff4d12"}}},
{"data":{"name":"ma4"},"mark":{"type":"line","color":"#3f5ad8","strokeWidth":1.2},"encoding":{
"x":{"field":"i","type":"quantitative","scale":{"domain":[-0.467,231.308],"nice":false,"zero":false,"padding":0}},
"y":{"field":"v","type":"quantitative","scale":{"domain":[108.664,114.248],"nice":false,"zero":false,"padding":0}}}},
{"data":{"name":"zz4"},"mark":{"type":"line","color":"#ffff00","strokeWidth":2.3},"encoding":{
"x":{"field":"i","type":"quantitative","scale":{"domain":[-0.467,231.308],"nice":false,"zero":false,"padding":0}},
"y":{"field":"v","type":"quantitative","scale":{"domain":[108.664,114.248],"nice":false,"zero":false,"padding":0}}}},
{"data":{"name":"r4"},"mark":{"type":"rect","filled":false,"strokeWidth":2},"encoding":{
"x":{"field":"x","type":"quantitative","scale":{"domain":[-0.467,231.308],"nice":false,"zero":false,"padding":0}},"x2":{"field":"x2"},
"y":{"field":"y","type":"quantitative","scale":{"domain":[108.664,114.248],"nice":false,"zero":false,"padding":0}},"y2":{"field":"y2"},
"color":{"field":"k","type":"nominal","scale":{"domain":["o","g"],"range":["#ff7a00","#22c922"]},"legend":null}}},
{"data":{"name":"t4"},"mark":{"type":"tick","orient":"horizontal","size":23,"thickness":8,"opacity":1},"encoding":{
"x":{"datum":234.2,"type":"quantitative","scale":{"domain":[-0.467,231.308],"nice":false,"zero":false,"padding":0}},
"y":{"field":"v","type":"quantitative","scale":{"domain":[108.664,114.248],"nice":false,"zero":false,"padding":0}},
"color":{"field":"k","type":"nominal","scale":{"domain":["c","o","w","b","g"],"range":["#8a949e","#f5a623","#ffffff","#3d63e0","#41c841"]},"legend":null}}},
{"data":{"name":"t4"},"mark":{"type":"text","align":"left","baseline":"middle","fontSize":5.3},"encoding":{
"x":{"datum":231.9,"type":"quantitative","scale":{"domain":[-0.467,231.308],"nice":false,"zero":false,"padding":0}},
"y":{"field":"v","type":"quantitative","scale":{"domain":[108.664,114.248],"nice":false,"zero":false,"padding":0}},
"text":{"field":"t"},
"color":{"field":"k","type":"nominal","scale":{"domain":["c","o","w","b","g"],"range":["#f0f0f0","#3b2500","#000000","#ffffff","#0a3a0a"]},"legend":null}}},
{"data":{"values":[{"x":0.7,"y":114.197,"t":"▼ AUDJPY.oj1m,H4  113.083 113.128 112.885 113.080"}]},"mark":{"type":"text","align":"left","baseline":"middle","fontSize":5,"color":"#a8a8a8"},"encoding":{
"x":{"field":"x","type":"quantitative","scale":{"domain":[-0.467,231.308],"nice":false,"zero":false,"padding":0}},
"y":{"field":"y","type":"quantitative","scale":{"domain":[108.664,114.248],"nice":false,"zero":false,"padding":0}},"text":{"field":"t"}}},
{"data":{"values":[{"x":-0.23,"y":113.88,"t":"AUD JPY"}]},"mark":{"type":"text","align":"left","baseline":"middle","fontSize":12.5,"color":"#c4c4c4"},"encoding":{
"x":{"field":"x","type":"quantitative","scale":{"domain":[-0.467,231.308],"nice":false,"zero":false,"padding":0}},
"y":{"field":"y","type":"quantitative","scale":{"domain":[108.664,114.248],"nice":false,"zero":false,"padding":0}},"text":{"field":"t"}}},
{"data":{"values":[{"x":14.72,"y":113.88,"t":"メイン"}]},"mark":{"type":"text","align":"left","baseline":"middle","fontSize":12,"font":"Noto Sans CJK JP","color":"#ffffff"},"encoding":{
"x":{"field":"x","type":"quantitative","scale":{"domain":[-0.467,231.308],"nice":false,"zero":false,"padding":0}},
"y":{"field":"y","type":"quantitative","scale":{"domain":[108.664,114.248],"nice":false,"zero":false,"padding":0}},"text":{"field":"t"}}},
{"data":{"values":[{"x":230.6,"y":113.994,"t":"H4"}]},"mark":{"type":"text","align":"right","baseline":"middle","fontSize":17,"color":"#e8a000"},"encoding":{
"x":{"field":"x","type":"quantitative","scale":{"domain":[-0.467,231.308],"nice":false,"zero":false,"padding":0}},
"y":{"field":"y","type":"quantitative","scale":{"domain":[108.664,114.248],"nice":false,"zero":false,"padding":0}},"text":{"field":"t"}}}
]},
{"width":992,"height":222,
"resolve":{"scale":{"color":"independent"}},
"layer":[
{"data":{"name":"f1"},"mark":{"type":"rect","color":"#d5dee8"},"encoding":{
"x":{"field":"x","type":"quantitative","scale":{"domain":[-0.467,231.308],"nice":false,"zero":false,"padding":0},"axis":{"values":[0,8,16,24,32,40,48,56,64,72,80,88,96,104,112,120,128,136,144,152,160,168,176,184,192],"tickCount":60,"labelExpr":"['2 Apr 2026','2 Apr 19:00','3 Apr 03:00','3 Apr 11:00','3 Apr 19:00','6 Apr 03:00','6 Apr 11:00','6 Apr 19:00','7 Apr 03:00','7 Apr 11:00','7 Apr 19:00','8 Apr 03:00','8 Apr 11:00','8 Apr 19:00','9 Apr 03:00','9 Apr 11:00','9 Apr 19:00','10 Apr 03:00','10 Apr 11:00','10 Apr 19:00','11 Apr 03:00','13 Apr 11:00','13 Apr 19:00','14 Apr 03:00','14 Apr 11:00'][round(datum.value/8)]","labelAlign":"left","labelBaseline":"top","labelPadding":1,"labelColor":"#b4b4b4","labelFontSize":5,"labelFont":"Liberation Sans","labelFontWeight":"normal","tickColor":"#9a9a9a","tickSize":3,"tickWidth":1,"domain":false,"grid":false,"title":null,"labelOverlap":false,"labelBound":false,"labelFlush":false,"labelAngle":0}},
"x2":{"field":"x2"},
"y":{"field":"y","type":"quantitative","scale":{"domain":[109.457,113.402],"nice":false,"zero":false,"padding":0},"axis":{"orient":"right","values":[109.48,109.795,110.11,110.425,110.74,111.055,111.37,111.685,112.0,112.315,112.63,112.945,113.26],"tickCount":40,"format":".3f","labelAlign":"left","labelBaseline":"middle","labelColor":"#b4b4b4","labelFontSize":5,"labelFont":"Liberation Sans","labelFontWeight":"normal","tickColor":"#9a9a9a","tickSize":2,"tickWidth":1,"labelPadding":1,"domain":false,"grid":false,"title":null,"labelOverlap":false,"labelBound":false,"labelFlush":false}},
"y2":{"field":"y2"}}},
{"data":{"name":"b1"},"mark":{"type":"rect","stroke":"#8796a8","strokeWidth":0.7},"encoding":{
"x":{"field":"x","type":"quantitative","scale":{"domain":[-0.467,231.308],"nice":false,"zero":false,"padding":0}},"x2":{"field":"x2"},
"y":{"field":"y","type":"quantitative","scale":{"domain":[109.457,113.402],"nice":false,"zero":false,"padding":0}},"y2":{"field":"y2"},
"color":{"field":"k","type":"nominal","scale":{"domain":["b","x"],"range":["#e6ecf3","#c8473d"]},"legend":null}}},
{"data":{"values":[{"x":2.57,"y":113.58,"t":"AUDJPY.oj1m,H1"}]},"mark":{"type":"text","align":"left","baseline":"middle","fontSize":6.5,"color":"#6f7f90"},"encoding":{
"x":{"field":"x","type":"quantitative","scale":{"domain":[-0.467,231.308],"nice":false,"zero":false,"padding":0}},
"y":{"field":"y","type":"quantitative","scale":{"domain":[109.457,113.402],"nice":false,"zero":false,"padding":0}},"text":{"field":"t"}}},
{"data":{"name":"h1"},"mark":{"type":"rule","strokeWidth":1},"encoding":{
"y":{"field":"v","type":"quantitative","scale":{"domain":[109.457,113.402],"nice":false,"zero":false,"padding":0}},
"color":{"field":"k","type":"nominal","scale":{"domain":["c","o","w","b","g"],"range":["#3c3c3c","#b8730a","#c8c8c8","#2d44c8","#1d8a1d"]},"legend":null}}},
{"data":{"name":"c1"},"mark":{"type":"rule","strokeWidth":1},"encoding":{
"x":{"field":"i","type":"quantitative","scale":{"domain":[-0.467,231.308],"nice":false,"zero":false,"padding":0}},
"y":{"field":"l","type":"quantitative","scale":{"domain":[109.457,113.402],"nice":false,"zero":false,"padding":0}},"y2":{"field":"h"},
"color":{"condition":{"test":"datum.c >= datum.o","value":"#1cc4c8"},"value":"#ff4d12"}}},
{"data":{"name":"c1"},"mark":{"type":"bar","size":3},"encoding":{
"x":{"field":"i","type":"quantitative","scale":{"domain":[-0.467,231.308],"nice":false,"zero":false,"padding":0}},
"y":{"field":"o","type":"quantitative","scale":{"domain":[109.457,113.402],"nice":false,"zero":false,"padding":0}},"y2":{"field":"c"},
"color":{"condition":{"test":"datum.c >= datum.o","value":"#1cc4c8"},"value":"#ff4d12"}}},
{"data":{"name":"ma1"},"mark":{"type":"line","color":"#3f5ad8","strokeWidth":1.2},"encoding":{
"x":{"field":"i","type":"quantitative","scale":{"domain":[-0.467,231.308],"nice":false,"zero":false,"padding":0}},
"y":{"field":"v","type":"quantitative","scale":{"domain":[109.457,113.402],"nice":false,"zero":false,"padding":0}}}},
{"data":{"name":"zz1"},"mark":{"type":"line","color":"#ffff00","strokeWidth":2.3},"encoding":{
"x":{"field":"i","type":"quantitative","scale":{"domain":[-0.467,231.308],"nice":false,"zero":false,"padding":0}},
"y":{"field":"v","type":"quantitative","scale":{"domain":[109.457,113.402],"nice":false,"zero":false,"padding":0}}}},
{"data":{"name":"r1"},"mark":{"type":"rect","filled":false,"strokeWidth":2},"encoding":{
"x":{"field":"x","type":"quantitative","scale":{"domain":[-0.467,231.308],"nice":false,"zero":false,"padding":0}},"x2":{"field":"x2"},
"y":{"field":"y","type":"quantitative","scale":{"domain":[109.457,113.402],"nice":false,"zero":false,"padding":0}},"y2":{"field":"y2"},
"color":{"field":"k","type":"nominal","scale":{"domain":["o","g"],"range":["#ff7a00","#22c922"]},"legend":null}}},
{"data":{"name":"t1"},"mark":{"type":"tick","orient":"horizontal","size":23,"thickness":8,"opacity":1},"encoding":{
"x":{"datum":234.2,"type":"quantitative","scale":{"domain":[-0.467,231.308],"nice":false,"zero":false,"padding":0}},
"y":{"field":"v","type":"quantitative","scale":{"domain":[109.457,113.402],"nice":false,"zero":false,"padding":0}},
"color":{"field":"k","type":"nominal","scale":{"domain":["c","o","w","b","g"],"range":["#8a949e","#f5a623","#ffffff","#3d63e0","#41c841"]},"legend":null}}},
{"data":{"name":"t1"},"mark":{"type":"text","align":"left","baseline":"middle","fontSize":5.3},"encoding":{
"x":{"datum":231.9,"type":"quantitative","scale":{"domain":[-0.467,231.308],"nice":false,"zero":false,"padding":0}},
"y":{"field":"v","type":"quantitative","scale":{"domain":[109.457,113.402],"nice":false,"zero":false,"padding":0}},
"text":{"field":"t"},
"color":{"field":"k","type":"nominal","scale":{"domain":["c","o","w","b","g"],"range":["#f0f0f0","#3b2500","#000000","#ffffff","#0a3a0a"]},"legend":null}}},
{"data":{"values":[{"x":0.7,"y":113.352,"t":"▼ AUDJPY.oj1m,H1  113.082 113.128 113.072 113.080"}]},"mark":{"type":"text","align":"left","baseline":"middle","fontSize":5,"color":"#a8a8a8"},"encoding":{
"x":{"field":"x","type":"quantitative","scale":{"domain":[-0.467,231.308],"nice":false,"zero":false,"padding":0}},
"y":{"field":"y","type":"quantitative","scale":{"domain":[109.457,113.402],"nice":false,"zero":false,"padding":0}},"text":{"field":"t"}}},
{"data":{"values":[{"x":-0.23,"y":113.148,"t":"AUD JPY"}]},"mark":{"type":"text","align":"left","baseline":"middle","fontSize":12.5,"color":"#c4c4c4"},"encoding":{
"x":{"field":"x","type":"quantitative","scale":{"domain":[-0.467,231.308],"nice":false,"zero":false,"padding":0}},
"y":{"field":"y","type":"quantitative","scale":{"domain":[109.457,113.402],"nice":false,"zero":false,"padding":0}},"text":{"field":"t"}}},
{"data":{"values":[{"x":14.72,"y":113.13,"t":"メイン"}]},"mark":{"type":"text","align":"left","baseline":"middle","fontSize":12,"font":"Noto Sans CJK JP","color":"#ffffff"},"encoding":{
"x":{"field":"x","type":"quantitative","scale":{"domain":[-0.467,231.308],"nice":false,"zero":false,"padding":0}},
"y":{"field":"y","type":"quantitative","scale":{"domain":[109.457,113.402],"nice":false,"zero":false,"padding":0}},"text":{"field":"t"}}},
{"data":{"values":[{"x":230.6,"y":113.171,"t":"H1"}]},"mark":{"type":"text","align":"right","baseline":"middle","fontSize":17,"color":"#2fa866"},"encoding":{
"x":{"field":"x","type":"quantitative","scale":{"domain":[-0.467,231.308],"nice":false,"zero":false,"padding":0}},
"y":{"field":"y","type":"quantitative","scale":{"domain":[109.457,113.402],"nice":false,"zero":false,"padding":0}},"text":{"field":"t"}}}
]}
],
"spacing":35,
"bounds":"flush"
}
